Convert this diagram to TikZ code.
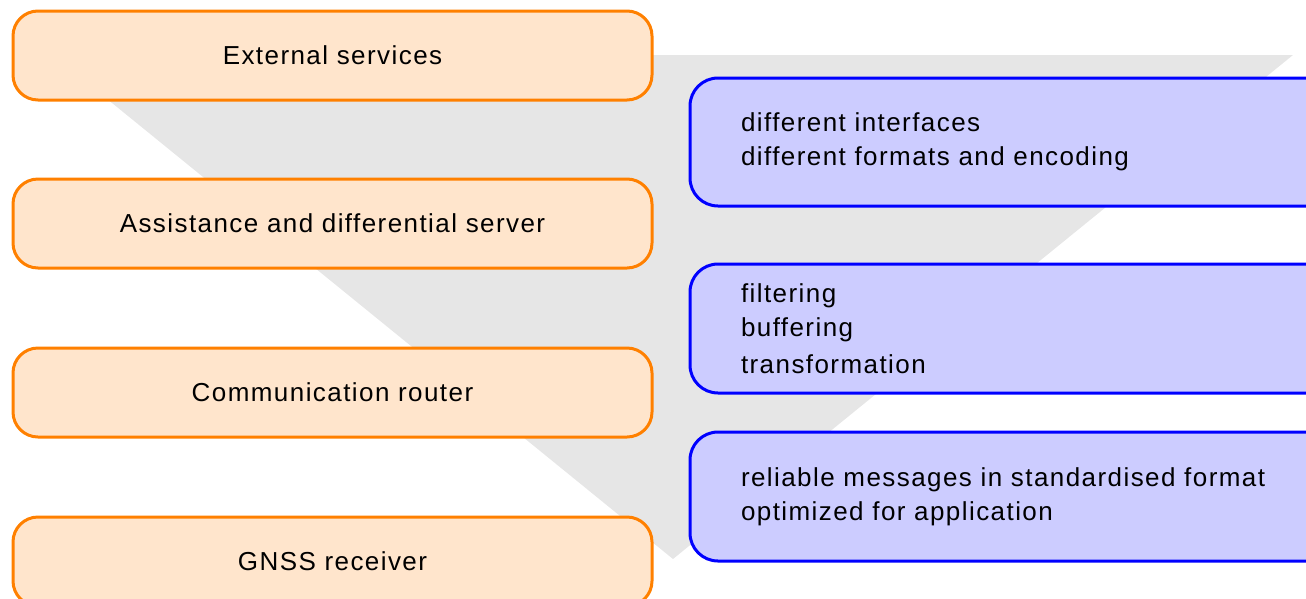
\documentclass[tikz,border=0pt]{standalone}
\usepackage{fontspec}
\setmainfont{Liberation Sans}[LetterSpace=5.5]
\definecolor{peach}{HTML}{FFE5CC}
\definecolor{orangeline}{HTML}{FF8000}
\definecolor{lavender}{HTML}{CCCCFF}
\definecolor{blueline}{HTML}{0000FF}
\definecolor{funnelgray}{HTML}{E6E6E6}
\begin{document}
\begin{tikzpicture}[x=1pt,y=-1pt,
  layerbox/.style={draw=orangeline, fill=peach, line width=3pt,
    rounded corners=25pt, minimum width=639pt, minimum height=89pt,
    inner sep=0pt, font=\fontsize{26}{34}\selectfont},
  notebox/.style={draw=blueline, fill=lavender, line width=3pt,
    rounded corners=28pt, minimum width=700pt, minimum height=128pt,
    text width=598pt, align=left, inner xsep=51pt, inner ysep=0pt,
    font=\fontsize{26}{34}\selectfont}]
\useasboundingbox (0,0) rectangle (1306,598);
\clip (0,0) rectangle (1306,598);

% background funnel
\fill[funnelgray] (53,55) -- (1293,55) -- (673,559) -- cycle;

% processing layers
\node[layerbox] (ext)  at (332.5,55.5)  {External services};
\node[layerbox] (asst) at (332.5,223.5) {Assistance and differential server};
\node[layerbox] (comm) at (332.5,392.5) {Communication router};
\node[layerbox] (gnss) at (332.5,561.5) {GNSS receiver};

% properties of the data at each stage
\node[notebox] (ifaces) at (1040,142)
  {different interfaces\\different formats and encoding};
\node[notebox, minimum height=129pt] (proc) at (1040,328.5)
  {filtering\\buffering\\[3pt]transformation};
\node[notebox, minimum height=129pt] (msgs) at (1040,496.5)
  {reliable messages in standardised format\\optimized for application};
\end{tikzpicture}
\end{document}
